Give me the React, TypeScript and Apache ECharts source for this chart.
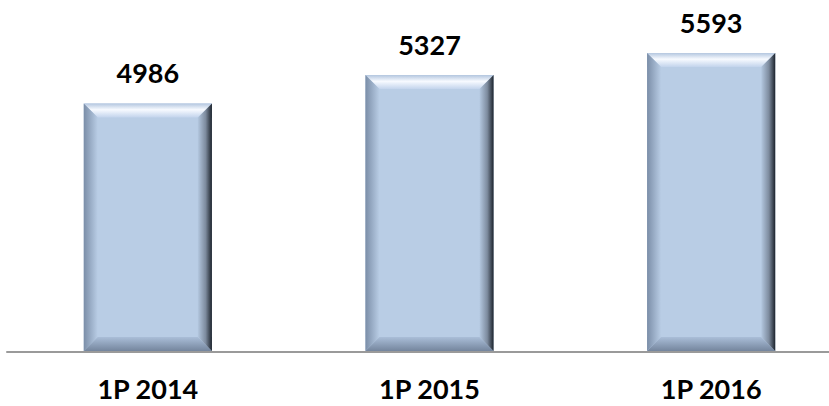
import React, { useEffect, useRef } from "react";
import * as echarts from "echarts";

const categories = ["1P 2014", "1P 2015", "1P 2016"];
const values = [4986, 5327, 5593];
const axisMin = 2000;
const axisMax = 6000;

const FONT = "Lato, 'Open Sans', sans-serif";

export default function App() {
  const ref = useRef<HTMLDivElement>(null);
  useEffect(() => {
    if (!ref.current) return;
    const chart = echarts.init(ref.current, undefined, { renderer: "svg" });
    const lg = (x2: number, y2: number, stops: [number, string][]) =>
      new echarts.graphic.LinearGradient(0, 0, x2, y2, stops.map(([offset, color]) => ({ offset, color })));
    chart.setOption({
      animation: false,
      grid: { left: 7, width: 845, top: 19, bottom: 54, outerBoundsMode: "none", containLabel: false },
      xAxis: {
        type: "category",
        data: categories,
        axisLine: { lineStyle: { color: "#9a9a9a", width: 2 } },
        axisTick: { show: false },
        axisLabel: {
          color: "#000",
          fontFamily: FONT,
          fontWeight: "bold",
          fontSize: 27,
          margin: 23,
        },
      },
      yAxis: {
        type: "value",
        min: axisMin,
        max: axisMax,
        show: false,
        splitLine: { show: false },
      },
      series: [
        {
          type: "custom",
          data: values.map((v, i) => [i, v]),
          encode: { x: 0, y: 1 },
          renderItem: (params: any, api: any) => {
            const idx = api.value(0);
            const val = api.value(1);
            const top = api.coord([idx, val]);
            const base = api.coord([idx, axisMin]);
            const w = api.size([1, 0])[0] * 0.455;
            const x0 = top[0] - w / 2;
            const x1 = top[0] + w / 2;
            const y0 = top[1];
            const y1 = base[1] - 1;
            const b = 14;
            return {
              type: "group",
              children: [
                {
                  type: "rect",
                  shape: { x: x0, y: y0, width: x1 - x0, height: y1 - y0 },
                  style: { fill: "#b9cde5" },
                },
                {
                  type: "polygon",
                  shape: { points: [[x0, y0], [x1, y0], [x1 - b, y0 + b], [x0 + b, y0 + b]] },
                  style: {
                    fill: lg(0, 1, [
                      [0, "#b3c6df"],
                      [0.45, "#f7faff"],
                      [1, "#c3d4ec"],
                    ]),
                  },
                },
                {
                  type: "polygon",
                  shape: { points: [[x0, y0], [x0 + b, y0 + b], [x0 + b, y1 - b], [x0, y1]] },
                  style: {
                    fill: lg(1, 0, [
                      [0, "#7b8ea8"],
                      [1, "#b9cde5"],
                    ]),
                  },
                },
                {
                  type: "polygon",
                  shape: { points: [[x0, y1], [x0 + b, y1 - b], [x1 - b, y1 - b], [x1, y1]] },
                  style: {
                    fill: lg(0, 1, [
                      [0, "#aabed8"],
                      [1, "#74859d"],
                    ]),
                  },
                },
                {
                  type: "polygon",
                  shape: { points: [[x1, y0], [x1, y1], [x1 - b, y1 - b], [x1 - b, y0 + b]] },
                  style: {
                    fill: lg(1, 0, [
                      [0, "#b3c7df"],
                      [0.55, "#7d8b9e"],
                      [1, "#1c232c"],
                    ]),
                  },
                },
                {
                  type: "text",
                  x: top[0],
                  y: y0 - 17,
                  style: {
                    text: String(val),
                    fill: "#000",
                    font: `bold 27px ${FONT}`,
                    align: "center",
                    verticalAlign: "bottom",
                  },
                },
              ],
            };
          },
        },
      ],
    });
    return () => chart.dispose();
  }, []);
  return <div ref={ref} style={{ width: 829, height: 406, position: "absolute", left: 0, top: 0 }} />;
}
